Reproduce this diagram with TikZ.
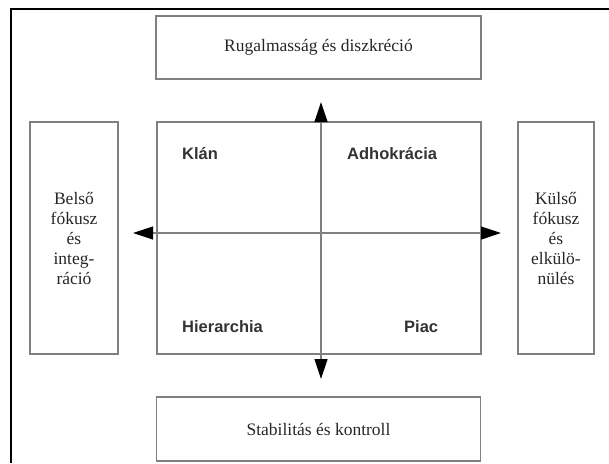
\documentclass[tikz,border=0pt]{standalone}
\usepackage{fontspec}
\setmainfont{Liberation Serif}
\newfontfamily\lsans{Liberation Sans}
\usetikzlibrary{arrows.meta}
\begin{document}
\begin{tikzpicture}[x=1pt,y=-1pt,
  box/.style={draw=black!50,line width=1.3pt,inner sep=0pt},
  serif/.style={font=\fontsize{17.5}{20}\selectfont,text=black!85},
  qlabel/.style={font=\lsans\bfseries\fontsize{16.5}{18}\selectfont,text=black!80,anchor=base west,inner sep=0pt},
  axis/.style={draw=black!50,line width=1.2pt,-{Triangle[length=20pt,width=13pt,color=black]}}]
\useasboundingbox (0,0) rectangle (609,463);
\draw[line width=2pt] (11,463) -- (11,9) -- (609,9);
\node[box,minimum width=325pt,minimum height=63pt,serif] (top) at (318.5,47.5) {Rugalmasság és diszkréció};
\node[box,minimum width=324pt,minimum height=64pt,serif] (bot) at (318.5,429) {Stabilitás és kontroll};
\node[box,minimum width=88pt,minimum height=232pt] (left) at (74,238) {};
\node[serif,align=center] at (left.center) {Belső\\fókusz\\és\\integ-\\ráció};
\node[box,minimum width=76pt,minimum height=232pt] (right) at (556,238) {};
\node[serif,align=center] at (right.center) {Külső\\fókusz\\és\\elkülö-\\nülés};
\node[box,minimum width=324pt,minimum height=232pt] (main) at (319,238) {};
\coordinate (c) at (321,233);
\coordinate (tu) at (321,102);
\coordinate (td) at (321,379);
\coordinate (tl) at (133,233);
\coordinate (tr) at (501,233);
\draw[axis] (c) -- (tu);
\draw[axis] (c) -- (td);
\draw[axis] (c) -- (tl);
\draw[axis] (c) -- (tr);
\node[qlabel] (klan) at (182,159) {Klán};
\node[qlabel] (adho) at (347,159) {Adhokrácia};
\node[qlabel] (hier) at (182,332) {Hierarchia};
\node[qlabel] (piac) at (404,332) {Piac};
\end{tikzpicture}
\end{document}
